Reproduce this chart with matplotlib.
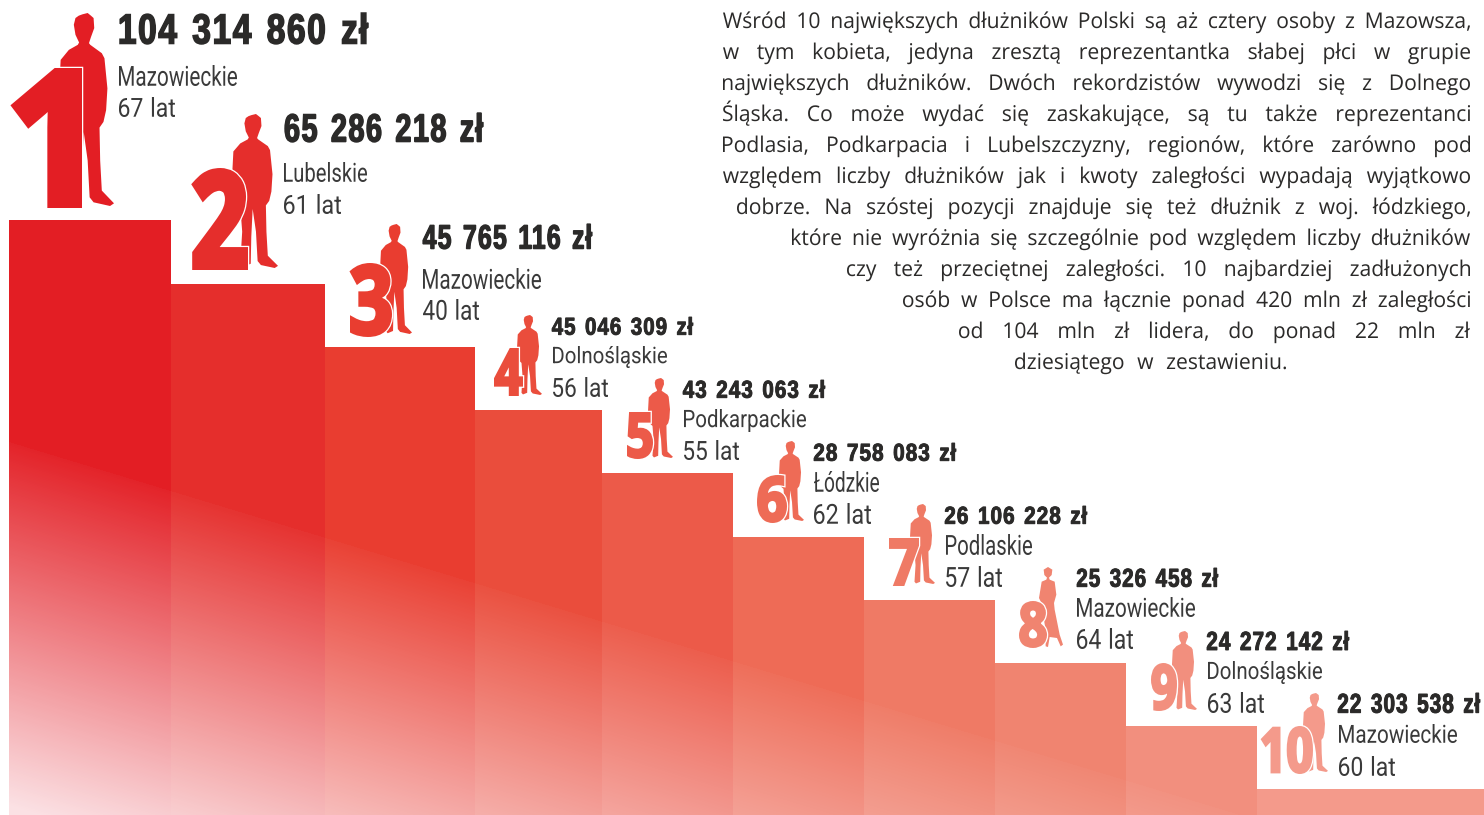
import numpy as np
import matplotlib
matplotlib.use("Agg")
import matplotlib.pyplot as plt
from matplotlib.colors import to_rgb
from matplotlib.patches import Polygon, PathPatch
from matplotlib.path import Path
from matplotlib.patheffects import AbstractPathEffect
from matplotlib.transforms import Affine2D

# ---------- data ----------
ranks = ["1", "2", "3", "4", "5", "6", "7", "8", "9", "10"]
amounts = ["104 314 860 zł", "65 286 218 zł", "45 765 116 zł", "45 046 309 zł", "43 243 063 zł",
           "28 758 083 zł", "26 106 228 zł", "25 326 458 zł", "24 272 142 zł", "22 303 538 zł"]
regions = ["Mazowieckie", "Lubelskie", "Mazowieckie", "Dolnośląskie", "Podkarpackie",
           "Łódzkie", "Podlaskie", "Mazowieckie", "Dolnośląskie", "Mazowieckie"]
ages = ["67 lat", "61 lat", "40 lat", "56 lat", "55 lat", "62 lat", "57 lat", "64 lat", "63 lat", "60 lat"]
step_edges = [9, 171, 325, 475, 602, 733, 864, 995, 1126, 1257, 1484]
step_tops = [220, 284, 347, 410, 473, 537, 600, 663, 726, 789]
paragraph = [
    "Wśród 10 największych dłużników Polski są aż cztery osoby z Mazowsza,",
    "w tym kobieta, jedyna zresztą reprezentantka słabej płci w grupie",
    "największych dłużników. Dwóch rekordzistów wywodzi się z Dolnego",
    "Śląska. Co może wydać się zaskakujące, są tu także reprezentanci",
    "Podlasia, Podkarpacia i Lubelszczyzny, regionów, które zarówno pod",
    "względem liczby dłużników jak i kwoty zaległości wypadają wyjątkowo",
    "dobrze. Na szóstej pozycji znajduje się też dłużnik z woj. łódzkiego,",
    "które nie wyróżnia się szczególnie pod względem liczby dłużników",
    "czy też przeciętnej zaległości. 10 najbardziej zadłużonych",
    "osób w Polsce ma łącznie ponad 420 mln zł zaległości",
    "od 104 mln zł lidera, do ponad 22 mln zł",
    "dziesiątego w zestawieniu.",
]

# ---------- styles / layout ----------
colors = ["#e31e24", "#e52e2c", "#e93d30", "#ea4d3c", "#ec5a49",
          "#ee6b56", "#ef7a65", "#f08470", "#f28f7e", "#f49a8b"]
TEXT = "#2b2a29"
BOTTOM = 815
# (x0, top, x1, bottom) in pixels
amount_box = [(120, 13, 368, 44), (285, 113, 483, 142), (423, 224, 592, 249), (552, 317, 693, 335),
              (683, 380, 825, 398), (814, 443, 956, 461), (945, 506, 1087, 524), (1077, 568, 1218, 587),
              (1207, 631, 1349, 650), (1338, 693, 1480, 713)]
region_box = [(119, 65, 237, 86), (284, 162, 367, 182), (423, 268, 541, 289), (553, 346, 667, 368),
              (684, 409, 806, 432), (814, 471, 879, 492), (946, 534, 1032, 555), (1077, 597, 1195, 617),
              (1208, 661, 1322, 684), (1339, 724, 1457, 743)]
age_box = [(119, 97, 175, 117), (284, 194, 341, 214), (423, 299, 479, 320), (553, 377, 608, 397),
           (684, 440, 739, 460), (814, 503, 871, 524), (946, 566, 1002, 587), (1077, 628, 1133, 649),
           (1208, 692, 1264, 713), (1339, 756, 1395, 776)]
rank_box = [(12, 68, 82, 208), (192, 168, 248, 270), (350, 263, 392, 337), (494, 348, 523, 396),
            (627, 412, 653, 459), (757, 475, 787, 523), (889, 538, 919, 586), (1019, 601, 1047, 648),
            (1151, 663, 1177, 711), (1261, 726, 1313, 774)]
person_box = [(59, 13, 114, 206), (232, 114, 278, 268), (380, 224, 412, 334), (517, 315, 542, 395),
              (648, 378, 673, 458), (779, 441, 804, 521), (910, 504, 935, 584), (1039, 567, 1063, 647),
              (1172, 631, 1197, 710), (1303, 693, 1328, 772)]
para_x0 = [723, 723, 723, 723, 723, 723, 737, 792, 847, 903, 959, 1015]
para_x1 = [1470] * 11 + [1286]
para_base = [28 + 31 * i for i in range(12)]

MALE = np.array([
    (235, 48), (246, 44), (262, 40), (272, 48), (280, 55), (282, 85), (272, 112), (266, 130), (270, 135),
    (305, 160), (313, 175), (322, 265), (318, 330), (310, 365), (298, 382), (300, 480), (305, 570),
    (342, 608), (330, 616), (280, 605), (268, 590), (262, 480), (250, 395), (245, 500), (243, 600),
    (215, 612), (205, 600), (212, 480), (205, 385), (190, 370), (178, 330), (175, 280), (180, 180),
    (205, 150), (232, 135), (236, 128), (225, 105), (220, 75), (225, 55)], float)
FEMALE = np.array([
    (132, 30), (145, 22), (158, 30), (156, 46), (148, 54), (150, 60), (165, 66), (170, 105), (163, 130),
    (165, 150), (180, 225), (190, 255), (183, 260), (172, 235), (150, 232), (145, 262), (138, 260),
    (136, 200), (125, 130), (118, 115), (126, 66), (140, 60), (142, 54), (134, 46)], float)


def norm(p):
    q = p - p.min(0)
    return q / q.max(0)


def glyph_groups(v, c):
    """Per-vertex glyph index (contours overlapping in x form one glyph) and the gaps after each glyph."""
    m = c != Path.CLOSEPOLY
    sub = np.cumsum(c == Path.MOVETO)
    ids = np.unique(sub)
    ext = np.array([(v[(sub == g) & m, 0].min(), v[(sub == g) & m, 0].max()) for g in ids])
    order = np.argsort(ext[:, 0])
    label = np.zeros(len(ids), int)
    gaps = []
    reach = ext[order[0], 1]
    k = 0
    for i in order:
        if ext[i, 0] > reach:
            gaps.append(ext[i, 0] - reach)
            k += 1
        label[i] = k
        reach = max(reach, ext[i, 1])
    per_vertex = label[np.searchsorted(ids, sub)]
    return per_vertex, np.array(gaps)


def respace(v, c, n_spaces, extra, glyph_squeeze=1.0):
    """Shrink each glyph about its own centre and widen the n largest gaps (the word spaces) by extra."""
    v = v.copy()
    glyph, gaps = glyph_groups(v, c)
    m = c != Path.CLOSEPOLY
    if glyph_squeeze != 1.0:
        for g in np.unique(glyph):
            s = (glyph == g) & m
            mid = (v[s, 0].min() + v[s, 0].max()) / 2
            s2 = glyph == g
            v[s2, 0] = mid + (v[s2, 0] - mid) * glyph_squeeze
    word_after = np.zeros(len(gaps) + 1, int)
    if n_spaces:
        big = np.argsort(gaps)[-n_spaces:]
        flags = np.zeros(len(gaps), int)
        flags[big] = 1
        word_after[1:] = np.cumsum(flags)
    v[:, 0] += word_after[glyph] * extra
    return v


class FitBox(AbstractPathEffect):
    """Fit the text outline into a pixel box, so narrow display lettering can stay real text."""

    def __init__(self, ax, box, strokes=(), n_spaces=0, word_extra=0.0, glyph_squeeze=1.0):
        super().__init__()
        self.ax, self.box, self.strokes = ax, box, strokes
        self.n, self.we, self.gs = n_spaces, word_extra, glyph_squeeze

    def draw_path(self, renderer, gc, tpath, affine, rgbFace=None):
        p = tpath.transformed(affine)
        verts = respace(p.vertices, p.codes, self.n, self.we, self.gs)
        p = Path(verts, p.codes)
        v = verts[p.codes != Path.CLOSEPOLY]
        (x0, y0), (x1, y1) = self.ax.transData.transform([(self.box[0], self.box[3]), (self.box[2], self.box[1])])
        sx = (x1 - x0) / (v[:, 0].max() - v[:, 0].min())
        sy = (y1 - y0) / (v[:, 1].max() - v[:, 1].min())
        fit = Affine2D().translate(-v[:, 0].min(), -v[:, 1].min()).scale(sx, sy).translate(x0, y0)
        for col, lw in self.strokes:
            face = to_rgb(col) if col else tuple(rgbFace[:3])
            g = renderer.new_gc()
            g.copy_properties(gc)
            g.set_linewidth(lw)
            g.set_foreground(face)
            g.set_joinstyle("miter")
            renderer.draw_path(g, p, fit, face)
            g.restore()
        renderer.draw_path(gc, p, fit, rgbFace)


class Justify(AbstractPathEffect):
    """Stretch the word gaps of a line so that it runs from x0 to x1."""

    def __init__(self, ax, x0, x1, n_spaces, squeeze=1.0):
        super().__init__()
        self.ax, self.x0, self.x1, self.n, self.squeeze = ax, x0, x1, n_spaces, squeeze

    def draw_path(self, renderer, gc, tpath, affine, rgbFace=None):
        p = tpath.transformed(affine)
        v, c = p.vertices.copy(), p.codes
        m = c != Path.CLOSEPOLY
        v[:, 0] = (v[:, 0] - v[m, 0].min()) * self.squeeze
        X0 = self.ax.transData.transform((self.x0, 0))[0]
        X1 = self.ax.transData.transform((self.x1, 0))[0]
        extra = (X1 - X0 - v[m, 0].max()) / self.n
        v = respace(v, c, self.n, extra)
        v[:, 0] += X0
        renderer.draw_path(gc, Path(v, c), Affine2D(), rgbFace)


fig = plt.figure(figsize=(14.84, 8.15), dpi=100, facecolor="white")
ax = fig.add_axes([0, 0, 1, 1])
ax.set_xlim(0, 1484)
ax.set_ylim(815, 0)
ax.axis("off")

# stairs
lefts = np.array(step_edges[:-1])
widths = np.diff(step_edges)
tops = np.array(step_tops)
ax.bar(lefts, tops - BOTTOM, width=widths, bottom=BOTTOM, align="edge", color=colors, linewidth=0, zorder=1)

# white diagonal fade over the stairs, clipped to their outline
outline = [(step_edges[0], BOTTOM)]
for i, t in enumerate(step_tops):
    outline += [(step_edges[i], t), (step_edges[i + 1], t)]
outline.append((step_edges[-1], BOTTOM))
yy, xx = np.mgrid[0:815, 0:1484]
d = (yy + 0.5) - (442 + 0.303 * (xx + 0.5 - 9))
alpha = np.where(d > 0, np.clip(0.03 + d / 400, 0, 0.94), 0.0)
rgba = np.ones((815, 1484, 4))
rgba[..., :3] = (0.995, 0.94, 0.95)
rgba[..., 3] = alpha
im = ax.imshow(rgba, extent=(0, 1484, 815, 0), zorder=2, interpolation="bilinear", aspect="auto")
im.set_clip_path(PathPatch(Path(outline + [outline[0]], closed=True), transform=ax.transData))
ax.set_xlim(0, 1484)
ax.set_ylim(815, 0)

PX = 0.72  # points per pixel at 100 dpi
for i in range(10):
    # silhouette
    shape = norm(FEMALE if i == 7 else MALE)
    x0, y0, x1, y1 = person_box[i]
    xy = shape * [x1 - x0, y1 - y0] + [x0, y0]
    ax.add_patch(Polygon(xy, closed=True, facecolor=colors[i], edgecolor="none", zorder=3))
    # rank numeral with a white contour
    bx = rank_box[i]
    h = bx[3] - bx[1]
    w = bx[2] - bx[0]
    lw = 0.06 * h
    inset = (bx[0] + lw / 2, bx[1] + lw / 2, bx[2] - lw / 2, bx[3] - lw / 2)
    ax.text(bx[0], bx[3], ranks[i], family="Open Sans", weight="bold",
            fontsize=w / (0.57 * len(ranks[i])) * PX,
            color=colors[i], va="baseline", ha="left", zorder=4,
            path_effects=[FitBox(ax, inset, strokes=[("white", (lw + 2.5) * PX), (None, lw * PX)])])
    # amount / region / age
    bx = amount_box[i]
    h = bx[3] - bx[1]
    ax.text(bx[0], bx[3], amounts[i], family="Liberation Sans", weight="bold",
            fontsize=(bx[2] - bx[0]) / 7.0 * PX,
            color=TEXT, va="baseline", ha="left", zorder=5,
            path_effects=[FitBox(ax, bx, strokes=[(None, 0.035 * h)], n_spaces=amounts[i].count(" "),
                                 word_extra=0.1 * (bx[2] - bx[0]) / 7.0, glyph_squeeze=0.92)])
    bx = region_box[i]
    ax.text(bx[0], bx[3], regions[i], family="Roboto", fontsize=15, color="#3a3a3a",
            va="baseline", ha="left", zorder=5, path_effects=[FitBox(ax, bx)])
    bx = age_box[i]
    ax.text(bx[0], bx[3], ages[i], family="Roboto", fontsize=15, color="#3a3a3a",
            va="baseline", ha="left", zorder=5,
            path_effects=[FitBox(ax, bx, n_spaces=1, word_extra=1.0)])

# justified paragraph
for line, x0, x1, b in zip(paragraph, para_x0, para_x1, para_base):
    ax.text(x0, b, line, family="Open Sans", fontsize=15.6, color=TEXT, va="baseline", ha="left",
            zorder=5, path_effects=[Justify(ax, x0, x1, line.count(" "), squeeze=0.975)])

fig.savefig("out.png", dpi=100, facecolor="white")
